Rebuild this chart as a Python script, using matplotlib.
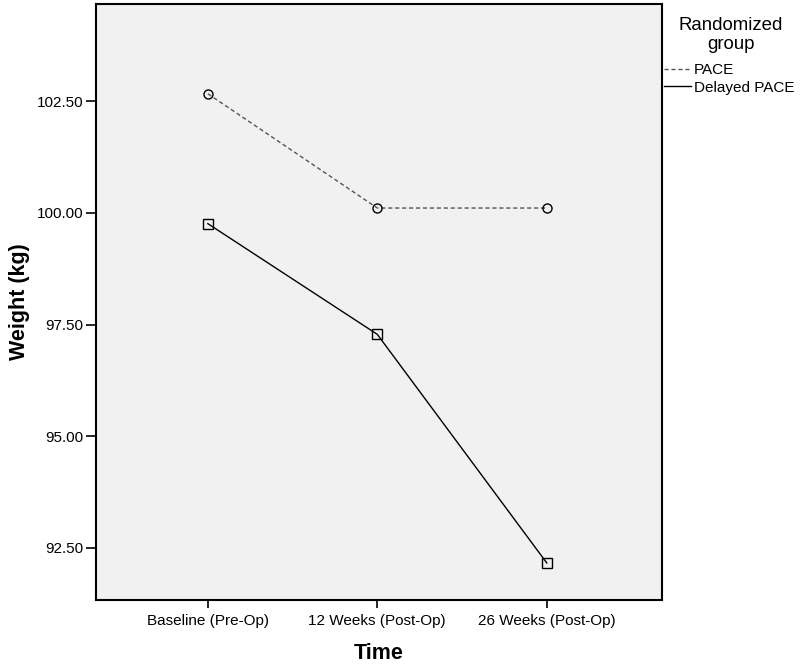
import matplotlib
matplotlib.use("Agg")
import matplotlib.pyplot as plt
import matplotlib.lines as mlines

categories = ["Baseline (Pre-Op)", "12 Weeks (Post-Op)", "26 Weeks (Post-Op)"]
pace = [102.67, 100.11, 100.11]
delayed_pace = [99.76, 97.28, 92.16]
yticks = [92.5, 95.0, 97.5, 100.0, 102.5]
ytick_labels = ["92.50", "95.00", "97.50", "100.00", "102.50"]

plt.rcParams['font.family'] = ['Liberation Sans', 'DejaVu Sans']

fig = plt.figure(figsize=(8, 6.66), dpi=100)
ax = fig.add_axes([96/800, 66/666, (662-96)/800, (600-4)/666])
ax.set_facecolor('#f1f1f1')

x = list(range(len(categories)))
ax.plot(x, pace, linestyle=(0, (3, 2)), color='#555555', linewidth=1.0,
        marker='o', markersize=6.5, markerfacecolor='none',
        markeredgecolor='black', markeredgewidth=1.0, label='PACE')
ax.plot(x, delayed_pace, linestyle='-', color='black', linewidth=1.0,
        marker='s', markersize=6.5, markerfacecolor='none',
        markeredgecolor='black', markeredgewidth=1.0, label='Delayed PACE')

ax.set_xlim(-0.66, 2.68)
ax.set_ylim(91.33, 104.68)
ax.set_xticks(x)
ax.set_xticklabels(categories, fontsize=11)
ax.set_yticks(yticks)
ax.set_yticklabels(ytick_labels, fontsize=11)
ax.tick_params(axis='x', direction='out', length=6, width=1.2, color='black', pad=4)
ax.tick_params(axis='y', direction='out', length=7, width=1.2, color='black', pad=2)
for s in ax.spines.values():
    s.set_linewidth(1.5)
    s.set_color('black')

ax.set_xlabel("Time", fontsize=15.5, fontweight='bold', labelpad=11)
ax.set_ylabel("Weight (kg)", fontsize=15.5, fontweight='bold', labelpad=5)

fig.text(731/800, 1 - 35/666, "Randomized\ngroup", ha='center', va='center',
         fontsize=13.4, linespacing=1.1)

h1 = mlines.Line2D([], [], linestyle=(0, (3, 2)), color='#555555', linewidth=1.0)
h2 = mlines.Line2D([], [], linestyle='-', color='black', linewidth=1.0)
fig.legend([h1, h2], ['PACE', 'Delayed PACE'], loc='upper left',
           bbox_to_anchor=(664/800, 1 - 63/666), frameon=False, fontsize=11,
           handlelength=1.75, handletextpad=0.2, labelspacing=0.25,
           borderpad=0, borderaxespad=0)

fig.savefig("out.png", dpi=100)
